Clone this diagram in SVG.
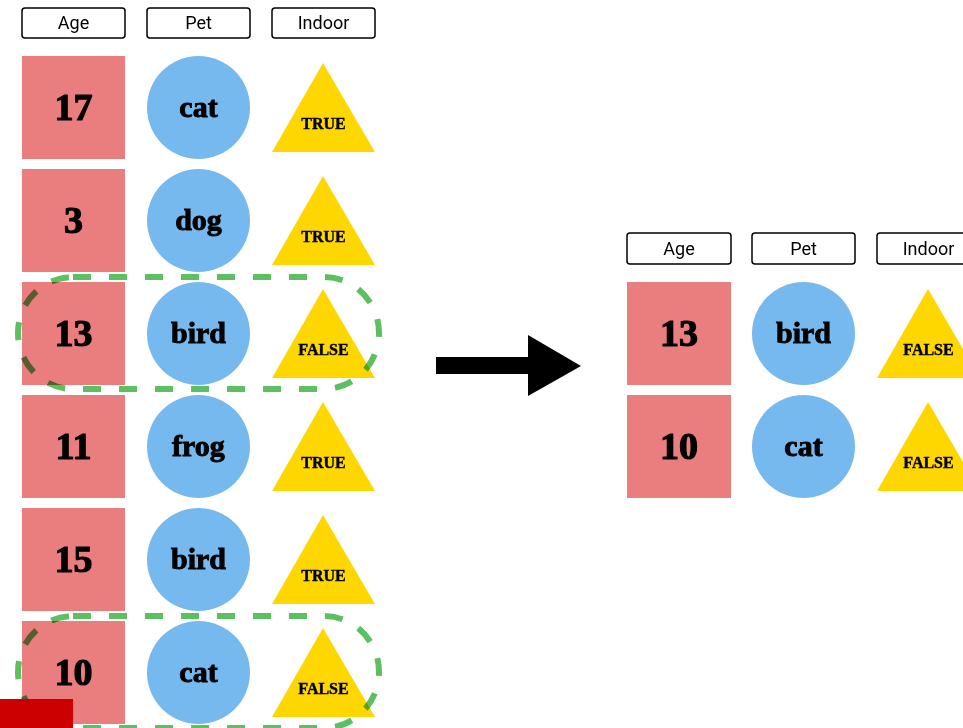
<svg xmlns="http://www.w3.org/2000/svg" width="963" height="728" viewBox="0 0 963 728">
<style>
.hdr rect{fill:#fff;stroke:#000;stroke-width:1.5}
.hdr text{font-family:Roboto,"Noto Sans",sans-serif;font-size:18px;text-anchor:middle;fill:#000}
.sq{fill:#EA7D7D}
.ci{fill:#76B9EE}
.tr{fill:#FFD700}
.num{font-family:"Liberation Serif",serif;font-weight:bold;font-size:38px;text-anchor:middle;fill:#000;stroke:#000;stroke-width:1.2}
.pet{font-family:"Liberation Serif",serif;font-weight:bold;font-size:30px;text-anchor:middle;fill:#000;stroke:#000;stroke-width:0.9}
.ind{font-family:"Liberation Serif",serif;font-weight:bold;font-size:16px;text-anchor:middle;fill:#000;stroke:#000;stroke-width:0.4}
.hl{fill:none;stroke:#5CBF60;stroke-width:6;stroke-dasharray:18 18;mix-blend-mode:multiply}
</style>
<rect width="963" height="728" fill="#fff"/>
<!-- left headers -->
<g id="h-age" class="hdr"><rect x="22" y="8" width="103" height="30" rx="3"/><text x="73.5" y="29">Age</text></g>
<g id="h-pet" class="hdr"><rect x="147" y="8" width="103" height="30" rx="3"/><text x="198.5" y="29">Pet</text></g>
<g id="h-indoor" class="hdr"><rect x="272" y="8" width="103" height="30" rx="3"/><text x="323.5" y="29">Indoor</text></g>
<!-- left rows -->
<g id="r1-age"><rect class="sq" x="22" y="56" width="103" height="103"/><text class="num" x="73.5" y="120">17</text></g>
<g id="r1-pet"><circle class="ci" cx="198.5" cy="107.5" r="51.5"/><text class="pet" x="198.5" y="117">cat</text></g>
<g id="r1-indoor"><polygon class="tr" points="272,152 323,63 375,152"/><text class="ind" x="323.5" y="129">TRUE</text></g>

<g id="r2-age"><rect class="sq" x="22" y="169" width="103" height="103"/><text class="num" x="73.5" y="233">3</text></g>
<g id="r2-pet"><circle class="ci" cx="198.5" cy="220.5" r="51.5"/><text class="pet" x="198.5" y="230">dog</text></g>
<g id="r2-indoor"><polygon class="tr" points="272,265 323,176 375,265"/><text class="ind" x="323.5" y="242">TRUE</text></g>

<g id="r3-age"><rect class="sq" x="22" y="282" width="103" height="103"/><text class="num" x="73.5" y="346">13</text></g>
<g id="r3-pet"><circle class="ci" cx="198.5" cy="333.5" r="51.5"/><text class="pet" x="198.5" y="343">bird</text></g>
<g id="r3-indoor"><polygon class="tr" points="272,378 323,289 375,378"/><text class="ind" x="323.5" y="355">FALSE</text></g>

<g id="r4-age"><rect class="sq" x="22" y="395" width="103" height="103"/><text class="num" x="73.5" y="459">11</text></g>
<g id="r4-pet"><circle class="ci" cx="198.5" cy="446.5" r="51.5"/><text class="pet" x="198.5" y="456">frog</text></g>
<g id="r4-indoor"><polygon class="tr" points="272,491 323,402 375,491"/><text class="ind" x="323.5" y="468">TRUE</text></g>

<g id="r5-age"><rect class="sq" x="22" y="508" width="103" height="103"/><text class="num" x="73.5" y="572">15</text></g>
<g id="r5-pet"><circle class="ci" cx="198.5" cy="559.5" r="51.5"/><text class="pet" x="198.5" y="569">bird</text></g>
<g id="r5-indoor"><polygon class="tr" points="272,604 323,515 375,604"/><text class="ind" x="323.5" y="581">TRUE</text></g>

<g id="r6-age"><rect class="sq" x="22" y="621" width="103" height="103"/><text class="num" x="73.5" y="685">10</text></g>
<g id="r6-pet"><circle class="ci" cx="198.5" cy="672.5" r="51.5"/><text class="pet" x="198.5" y="682">cat</text></g>
<g id="r6-indoor"><polygon class="tr" points="272,717 323,628 375,717"/><text class="ind" x="323.5" y="694">FALSE</text></g>

<!-- highlights -->
<g id="highlights">
<rect class="hl" x="18" y="277" width="361" height="112" rx="55" ry="56"/>
<rect class="hl" x="18" y="616" width="361" height="112" rx="55" ry="56"/>
</g>

<!-- right headers -->
<g id="h2-age" class="hdr"><rect x="627" y="233" width="104" height="31" rx="3"/><text x="679" y="255">Age</text></g>
<g id="h2-pet" class="hdr"><rect x="752" y="233" width="103" height="31" rx="3"/><text x="803.5" y="255">Pet</text></g>
<g id="h2-indoor" class="hdr"><rect x="877" y="233" width="103" height="31" rx="3"/><text x="928.5" y="255">Indoor</text></g>

<g id="o1-age"><rect class="sq" x="627" y="282" width="104" height="103"/><text class="num" x="679" y="346">13</text></g>
<g id="o1-pet"><circle class="ci" cx="803.5" cy="333.5" r="51.5"/><text class="pet" x="803.5" y="343">bird</text></g>
<g id="o1-indoor"><polygon class="tr" points="877,378 928,289 980,378"/><text class="ind" x="928.5" y="355">FALSE</text></g>

<g id="o2-age"><rect class="sq" x="627" y="395" width="104" height="103"/><text class="num" x="679" y="459">10</text></g>
<g id="o2-pet"><circle class="ci" cx="803.5" cy="446.5" r="51.5"/><text class="pet" x="803.5" y="456">cat</text></g>
<g id="o2-indoor"><polygon class="tr" points="877,491 928,402 980,491"/><text class="ind" x="928.5" y="468">FALSE</text></g>

<!-- connectors -->
<g id="connectors">
<polygon fill="#000" points="436,357 528,357 528,335 581,366 528,396 528,374 436,374"/>
</g>

<rect id="badge" x="0" y="699" width="73" height="29" fill="#CC0000"/>
</svg>
